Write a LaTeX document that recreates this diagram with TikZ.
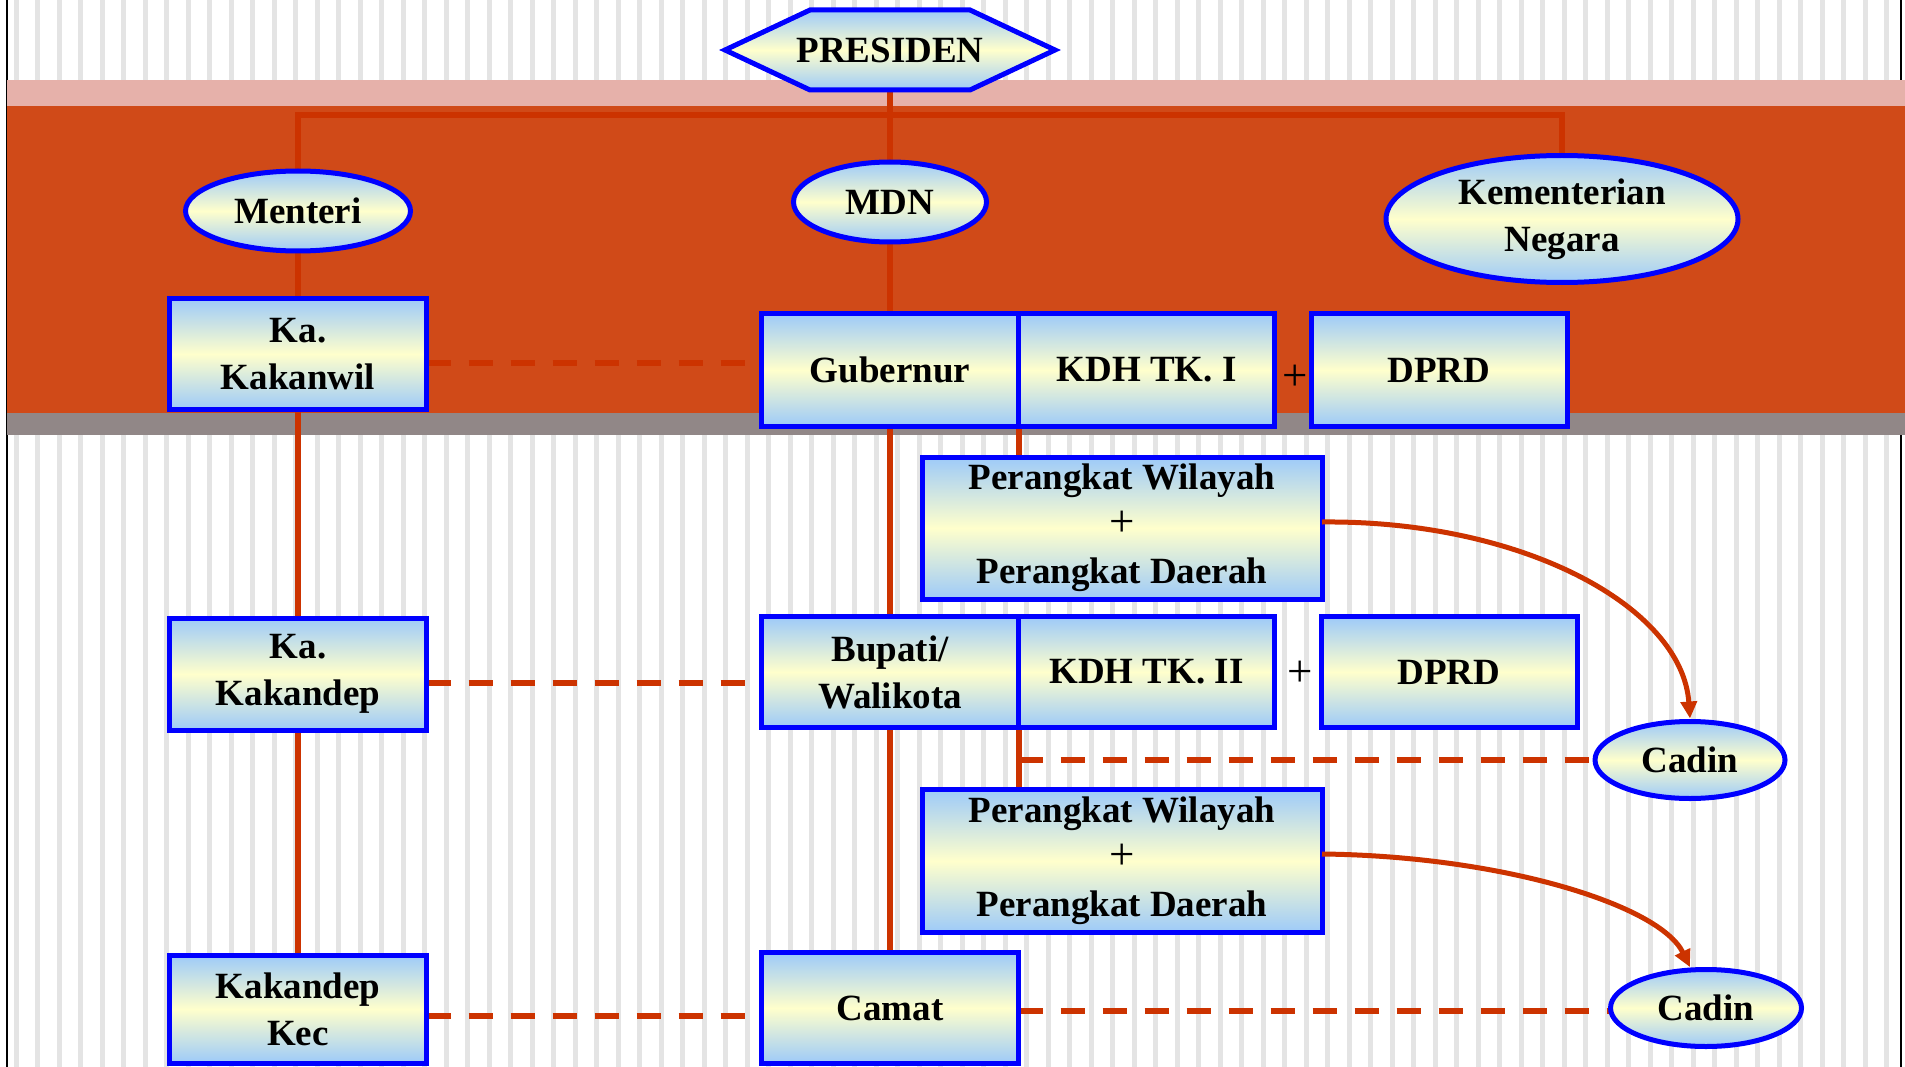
\documentclass[tikz,border=0pt]{standalone}
\usepackage{fontspec}
\setmainfont{Liberation Serif}
\usetikzlibrary{shapes.geometric,arrows.meta,calc}

\definecolor{band}{HTML}{D04A18}
\definecolor{bandtop}{HTML}{E6B1AA}
\definecolor{bandbot}{HTML}{918787}
\definecolor{stripe}{HTML}{E4E4E4}
\definecolor{link}{HTML}{CC3300}
\definecolor{nodeblue}{HTML}{9DCAF9}
\definecolor{nodecream}{HTML}{FFFFCC}
\definecolor{frame}{HTML}{0000FF}

\pgfdeclarelayer{back}
\pgfdeclarelayer{links}
\pgfsetlayers{back,links,main}

\newcommand{\bigplus}{{\fontsize{45}{47}\selectfont\mdseries +}}

\tikzset{
  label font/.style={font=\fontsize{37}{47}\selectfont\bfseries},
  unit/.style={draw=frame, line width=5pt, top color=nodeblue, bottom color=nodeblue,
    middle color=nodecream, inner sep=0pt, outer sep=0pt, align=center, label font},
  box/.style={unit, rectangle},
  oval/.style={unit, ellipse},
  plus/.style={inner sep=0pt, font=\fontsize{45}{47}\selectfont},
  solidlink/.style={draw=link, line width=6pt},
  dashlink/.style={draw=link, line width=6pt, dash pattern=on 24pt off 18pt},
  curvelink/.style={draw=link, line width=5pt, -{Triangle[length=17pt,width=16pt]}}
}

\begin{document}
\begin{tikzpicture}[x=1pt,y=-1pt]
\useasboundingbox (0,0) rectangle (1905,1067);

% striped page with the coloured band behind the upper rows
\begin{pgfonlayer}{back}
  \fill[white] (0,0) rectangle (1905,1067);
  \foreach \i in {0,...,87} \fill[stripe] ({13.5+21.5*\i},0) rectangle ++(5,1067);
  \draw[black, line width=2pt] (7,0) -- (7,1067);
  \draw[black, line width=2pt] (1901,0) -- (1901,1067);
  \fill[bandtop] (7,80) rectangle (1905,106);
  \fill[band] (7,106) rectangle (1905,413);
  \fill[bandbot] (7,413) rectangle (1905,435);
\end{pgfonlayer}

% top of the hierarchy
\path[draw=frame, line width=5pt, top color=nodeblue, bottom color=nodeblue, middle color=nodecream]
  (725,50) -- (810,10) -- (970,10) -- (1055,50) -- (970,90) -- (810,90) -- cycle;
\node[label font, inner sep=0pt] (pres) at (890,50) {PRESIDEN};
\coordinate (bar) at (890,115);

% first row
\node[oval, minimum width=225pt, minimum height=80pt] (menteri) at (298,211) {Menteri};
\node[oval, minimum width=193pt, minimum height=80pt] (mdn) at (890,202) {MDN};
\node[oval, minimum width=352pt, minimum height=127pt] (kem) at (1562,219) {Kementerian\\Negara};

% provincial level
\node[box, minimum width=257pt, minimum height=111pt] (kakw) at (298,354) {Ka.\\Kakanwil};
\node[box, minimum width=257pt, minimum height=113pt] (gub) at (890,370) {Gubernur};
\node[box, minimum width=256pt, minimum height=113pt, anchor=west] (kdh1) at (gub.east) {KDH TK. I};
\node[plus] (p1) at (1295,378) {+};
\node[box, minimum width=256pt, minimum height=113pt] (dprd1) at (1439,370) {DPRD};
\node[box, minimum width=400pt, minimum height=142pt] (pw1) at (1122,528)
  {Perangkat Wilayah\\\bigplus\\Perangkat Daerah};

% regency level
\node[box, minimum width=257pt, minimum height=112pt] (kakd) at (298,674) {Ka.\\Kakandep};
\node[box, minimum width=257pt, minimum height=111pt] (bup) at (890,672) {Bupati/\\Walikota};
\node[box, minimum width=256pt, minimum height=111pt, anchor=west] (kdh2) at (bup.east) {KDH TK. II};
\node[plus] (p2) at (1300,674) {+};
\node[box, minimum width=256pt, minimum height=111pt] (dprd2) at (1449,672) {DPRD};
\node[oval, minimum width=190pt, minimum height=77pt] (cad1) at (1690,760) {Cadin};
\node[box, minimum width=400pt, minimum height=143pt] (pw2) at (1122,861)
  {Perangkat Wilayah\\\bigplus\\Perangkat Daerah};

% district level
\node[box, minimum width=257pt, minimum height=108pt] (kkec) at (298,1009) {Kakandep\\Kec};
\node[box, minimum width=257pt, minimum height=111pt] (camat) at (890,1008) {Camat};
\node[oval, minimum width=191pt, minimum height=77pt] (cad2) at (1706,1008) {Cadin};

% connectors
\begin{pgfonlayer}{links}
  \draw[solidlink] (pres.center) -- (camat.center);
  \draw[solidlink] (menteri.center) |- (bar) -| (kem.center);
  \draw[solidlink] (menteri.center) -- (kkec.center);
  \draw[solidlink] (gub.south east) -- (gub.south east |- pw1.north);
  \draw[solidlink] (bup.south east) -- (bup.south east |- pw2.north);
  \coordinate (j1) at (bup.south east |- cad1.west);
  \draw[dashlink] (j1) -- (cad1.west);
  \draw[dashlink, shorten >=16pt] ([yshift=-9pt]kakw.east) -- ([yshift=-9pt]kakw.east -| gub.west);
  \draw[dashlink, shorten >=16pt] ([yshift=-9pt]kakd.east) -- ([yshift=-9pt]kakd.east -| bup.west);
  \draw[dashlink, shorten >=16pt] ([yshift=-7pt]kkec.east) -- ([yshift=-7pt]kkec.east -| camat.west);
  \draw[dashlink] ([yshift=-3pt]camat.east) -- ([yshift=-3pt]camat.east -| cad2.west);
\end{pgfonlayer}
\draw[curvelink] ([yshift=6pt]pw1.east) .. controls ($([yshift=6pt]pw1.east)+(200,-2)$) and ($(cad1.north)+(-8,-115)$) .. ([yshift=3pt]cad1.north);
\draw[curvelink] ([yshift=7pt]pw2.east) .. controls ($([yshift=7pt]pw2.east)+(180,2)$) and ($(cad2.113)+(-30,-65)$) .. ([yshift=3pt]cad2.113);
\end{tikzpicture}
\end{document}
